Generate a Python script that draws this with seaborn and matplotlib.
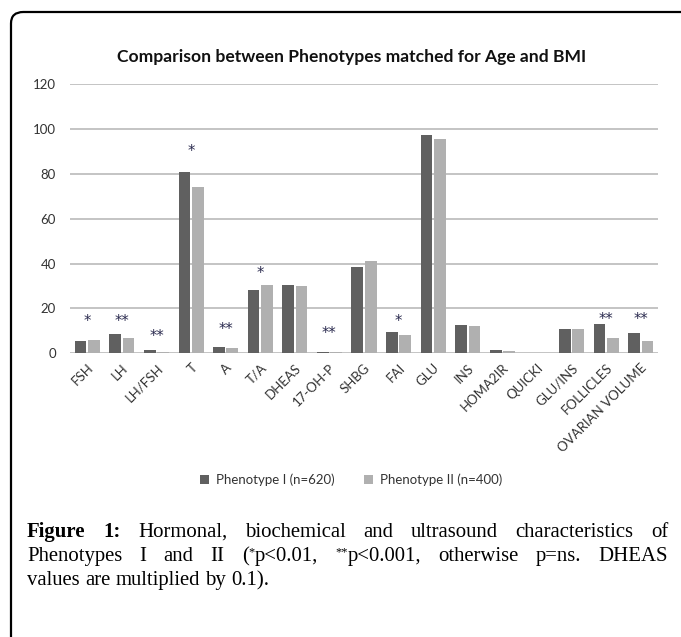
import matplotlib
matplotlib.use("Agg")
import matplotlib.pyplot as plt
from matplotlib.patches import FancyBboxPatch, Patch
import seaborn as sns
import pandas as pd

categories = ["FSH", "LH", "LH/FSH", "T", "A", "T/A", "DHEAS", "17-OH-P", "SHBG",
              "FAI", "GLU", "INS", "HOMA2IR", "QUICKI", "GLU/INS", "FOLLICLES",
              "OVARIAN VOLUME"]
pheno1 = [5.4, 8.5, 1.3, 81.0, 2.8, 28.4, 30.5, 0.8, 38.7, 9.5, 97.5, 12.5, 1.3, 0.3, 11.0, 13.1, 8.9]
pheno2 = [5.9, 6.9, 0.8, 74.0, 2.2, 30.5, 30.0, 0.7, 41.0, 8.3, 95.8, 12.0, 1.2, 0.3, 11.0, 6.9, 5.4]
series_names = ["Phenotype I (n=620)", "Phenotype II (n=400)"]
stars = ["*", "**", "**", "*", "**", "*", "", "**", "", "*", "", "", "", "", "", "**", "**"]
star_level = [14, 14, 7.7, 89.8, 10.8, 35.8, 0, 9, 0, 14, 0, 0, 0, 0, 0, 15, 15]
yticks = [0, 20, 40, 60, 80, 100, 120]
title = "Comparison between Phenotypes matched for Age and BMI"

dark, light = "#606060", "#b0b0b0"

df = pd.DataFrame({
    "cat": categories * 2,
    "pheno": [series_names[0]] * len(categories) + [series_names[1]] * len(categories),
    "value": pheno1 + pheno2,
})

W, H = 681, 637
fig = plt.figure(figsize=(W / 100, H / 100), dpi=100)
fig.patch.set_facecolor("white")

# rounded frame
box = FancyBboxPatch((11 / W, -0.1), 1.2, 1 - 12 / H + 0.1,
                     boxstyle="round,pad=0,rounding_size=0.018",
                     transform=fig.transFigure, facecolor="none",
                     edgecolor="black", linewidth=1.6)
fig.patches.append(box)

ax = fig.add_axes([70 / W, 1 - 353.3 / H, (658 - 70) / W, (353.3 - 84.3) / H])
sns.barplot(data=df, x="cat", y="value", hue="pheno", palette=[dark, light],
            width=0.77, gap=0.12, ax=ax, legend=False, linewidth=0, saturation=1)
ax.set_ylim(0, 120)
ax.set_xlim(-0.5, len(categories) - 0.5)
ax.set_yticks(yticks)
ax.set_xlabel("")
ax.set_ylabel("")
for s in ax.spines.values():
    s.set_visible(False)
ax.grid(axis="y", color="#c4c4c4", linewidth=1.4)
ax.set_axisbelow(True)
ax.tick_params(axis="both", length=0, labelsize=9.5, colors="#333333", labelcolor="#333333")
ax.tick_params(axis="y", pad=10)
for lab in ax.get_yticklabels():
    lab.set_fontfamily("Lato")
ax.set_xticks(range(len(categories)))
ax.set_xticklabels(categories, rotation=45, ha="right", rotation_mode="anchor",
                   fontfamily="Lato", fontsize=9.5, color="#333333")
ax.tick_params(axis="x", pad=6)

for i, (s, lv) in enumerate(zip(stars, star_level)):
    if s:
        ax.text(i, lv, s, ha="center", va="center", fontsize=10.5, color="#2b2b4f",
                fontfamily="DejaVu Sans")

fig.text(352 / W, 1 - 57 / H, title, ha="center", va="center", fontsize=12.6,
         fontweight="bold", fontfamily="Lato", color="#111111")

handles = [Patch(facecolor=dark), Patch(facecolor=light)]
fig.legend(handles, series_names, loc="center", bbox_to_anchor=(351 / W, 1 - 480 / H),
           ncol=2, frameon=False, prop={"family": "Lato", "size": 9.5},
           handlelength=0.7, handleheight=0.7, columnspacing=2.2, handletextpad=0.5,
           labelcolor="#333333")

# justified caption
renderer = fig.canvas.get_renderer()
cap_font = "Liberation Serif"

def run_width(txt, size, weight):
    t = fig.text(0, 0, txt, fontsize=size, fontweight=weight, fontfamily=cap_font)
    w = t.get_window_extent(renderer).width
    t.remove()
    return w

# choose caption size so that the last line is as wide as in the reference
cap_size = 10 * 243 / run_width("values are multiplied by 0.1).", 10, "normal")

def draw_line(words, y, x0, x1, justify):
    widths = []
    for word in words:
        widths.append(sum(run_width(t, sz, wt) for t, sz, wt, dy in word))
    total = sum(widths)
    if justify:
        space = (x1 - x0 - total) / (len(words) - 1)
    else:
        space = run_width("a a", cap_size, "normal") - 2 * run_width("a", cap_size, "normal")
    x = x0
    for word, w in zip(words, widths):
        xx = x
        for t, sz, wt, dy in word:
            fig.text(xx / W, 1 - (y - dy) / H, t, fontsize=sz, fontweight=wt,
                     fontfamily=cap_font, va="baseline", ha="left", color="black")
            xx += run_width(t, sz, wt)
        x += w + space

def N(t):
    return (t, cap_size, "normal", 0)

def B(t):
    return (t, cap_size, "bold", 0)

def S(t):
    return (t, cap_size * 0.6, "normal", 6)

line1 = [[B("Figure")], [B("1:")]] + [[N(w)] for w in "Hormonal, biochemical and ultrasound characteristics of".split()]
line2 = [[N("Phenotypes")], [N("I")], [N("and")], [N("II")], [N("("), S("*"), N("p<0.01,")],
         [S("**"), N("p<0.001,")], [N("otherwise")], [N("p=ns.")], [N("DHEAS")]]
line3 = [[N(w)] for w in "values are multiplied by 0.1).".split()]

draw_line(line1, 537, 27, 668, True)
draw_line(line2, 561, 27, 668, True)
draw_line(line3, 585, 27, 668, False)

fig.savefig("out.png", dpi=100, facecolor="white")
